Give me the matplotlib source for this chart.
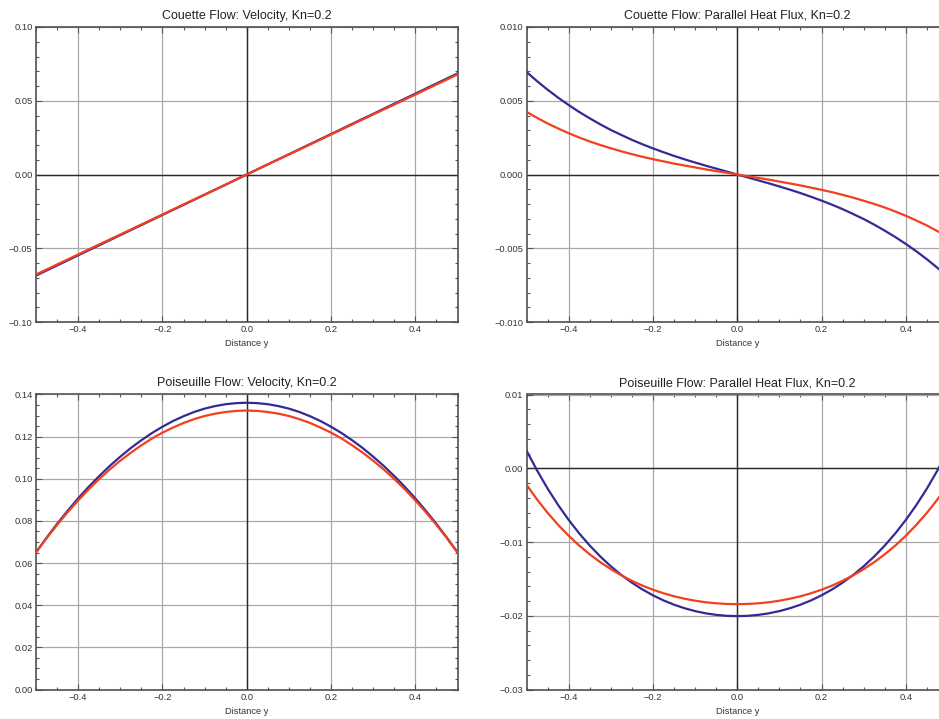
import matplotlib
matplotlib.use("Agg")
import matplotlib.pyplot as plt
from matplotlib.ticker import MultipleLocator, FuncFormatter

plt.rcParams['font.family'] = ['Liberation Sans', 'DejaVu Sans']

# distance across the channel (fine grid for the curved profiles)
distanceY = [-0.5, -0.475, -0.45, -0.425, -0.4, -0.375, -0.35, -0.325, -0.3, -0.275, -0.25,
             -0.225, -0.2, -0.175, -0.15, -0.125, -0.1, -0.075, -0.05, -0.025, 0.0,
             0.025, 0.05, 0.075, 0.1, 0.125, 0.15, 0.175, 0.2, 0.225, 0.25,
             0.275, 0.3, 0.325, 0.35, 0.375, 0.4, 0.425, 0.45, 0.475, 0.5]
distanceYCoarse = [-0.5, -0.45, -0.4, -0.35, -0.3, -0.25, -0.2, -0.15, -0.1, -0.05, 0.0,
                   0.05, 0.1, 0.15, 0.2, 0.25, 0.3, 0.35, 0.4, 0.45, 0.5]

couetteVelBlue = [-0.0685, -0.0617, -0.0548, -0.0480, -0.0411, -0.0343, -0.0274, -0.0206, -0.0137, -0.0069, 0.0,
                  0.0069, 0.0137, 0.0206, 0.0274, 0.0343, 0.0411, 0.0480, 0.0548, 0.0617, 0.0685]
couetteVelRed = [-0.0678, -0.0610, -0.0542, -0.0474, -0.0407, -0.0339, -0.0271, -0.0203, -0.0136, -0.0068, 0.0,
                 0.0068, 0.0136, 0.0203, 0.0271, 0.0339, 0.0407, 0.0474, 0.0542, 0.0610, 0.0678]

couetteHeatBlue = [0.00695, 0.00633, 0.00575, 0.00521, 0.00471, 0.00424, 0.00381, 0.00340, 0.00302, 0.00268, 0.00235,
                   0.00205, 0.00177, 0.00151, 0.00126, 0.00103, 0.00081, 0.00060, 0.00040, 0.00020, 0.0,
                   -0.00020, -0.00040, -0.00060, -0.00081, -0.00103, -0.00126, -0.00151, -0.00177, -0.00205, -0.00235,
                   -0.00268, -0.00302, -0.00340, -0.00381, -0.00424, -0.00471, -0.00521, -0.00575, -0.00633, -0.00695]
couetteHeatRed = [0.00425, 0.00384, 0.00346, 0.00312, 0.00280, 0.00251, 0.00224, 0.00200, 0.00178, 0.00157, 0.00138,
                  0.00120, 0.00104, 0.00089, 0.00074, 0.00061, 0.00048, 0.00035, 0.00023, 0.00012, 0.0,
                  -0.00012, -0.00023, -0.00035, -0.00048, -0.00061, -0.00074, -0.00089, -0.00104, -0.00120, -0.00138,
                  -0.00157, -0.00178, -0.00200, -0.00224, -0.00251, -0.00280, -0.00312, -0.00346, -0.00384, -0.00425]

poiseuilleVelBlue = [0.0651, 0.0720, 0.0786, 0.0848, 0.0907, 0.0962, 0.1013, 0.1061, 0.1105, 0.1146, 0.1183,
                     0.1217, 0.1247, 0.1274, 0.1297, 0.1317, 0.1333, 0.1345, 0.1354, 0.1359, 0.1361,
                     0.1359, 0.1354, 0.1345, 0.1333, 0.1317, 0.1297, 0.1274, 0.1247, 0.1217, 0.1183,
                     0.1146, 0.1105, 0.1061, 0.1013, 0.0962, 0.0907, 0.0848, 0.0786, 0.0720, 0.0651]
poiseuilleVelRed = [0.0650, 0.0718, 0.0781, 0.0841, 0.0897, 0.0950, 0.0999, 0.1044, 0.1086, 0.1124, 0.1159,
                    0.1191, 0.1219, 0.1243, 0.1265, 0.1283, 0.1298, 0.1309, 0.1317, 0.1322, 0.1324,
                    0.1322, 0.1317, 0.1309, 0.1298, 0.1283, 0.1265, 0.1243, 0.1219, 0.1191, 0.1159,
                    0.1124, 0.1086, 0.1044, 0.0999, 0.0950, 0.0897, 0.0841, 0.0781, 0.0718, 0.0650]

poiseuilleHeatBlue = [0.00240, -0.00029, -0.00275, -0.00498, -0.00700, -0.00883, -0.01048, -0.01196, -0.01329, -0.01447, -0.01551,
                      -0.01643, -0.01723, -0.01792, -0.01850, -0.01898, -0.01937, -0.01967, -0.01988, -0.02001, -0.02005,
                      -0.02001, -0.01988, -0.01967, -0.01937, -0.01898, -0.01850, -0.01792, -0.01723, -0.01643, -0.01551,
                      -0.01447, -0.01329, -0.01196, -0.01048, -0.00883, -0.00700, -0.00498, -0.00275, -0.00029, 0.00240]
poiseuilleHeatRed = [-0.00224, -0.00423, -0.00604, -0.00767, -0.00915, -0.01048, -0.01167, -0.01273, -0.01368, -0.01452, -0.01526,
                     -0.01591, -0.01647, -0.01695, -0.01736, -0.01769, -0.01796, -0.01817, -0.01831, -0.01840, -0.01843,
                     -0.01840, -0.01831, -0.01817, -0.01796, -0.01769, -0.01736, -0.01695, -0.01647, -0.01591, -0.01526,
                     -0.01452, -0.01368, -0.01273, -0.01167, -0.01048, -0.00915, -0.00767, -0.00604, -0.00423, -0.00224]

titles = ["Couette Flow: Velocity, Kn=0.2", "Couette Flow: Parallel Heat Flux, Kn=0.2",
          "Poiseuille Flow: Velocity, Kn=0.2", "Poiseuille Flow: Parallel Heat Flux, Kn=0.2"]

blueColor = "#352a94"
redColor = "#f2401e"
W, H = 939, 719

fig = plt.figure(figsize=(W / 100, H / 100), dpi=100)

leftX, rightX = 36 / W, 526.5 / W
axWidth = 421.5 / W
topBottom, bottomBottom = 1 - 322 / H, 1 - 689.5 / H
axHeight = 295 / H


def makeFormatter(decimals):
    def fmt(v, pos):
        s = f"{v:.{decimals}f}"
        if float(s) == 0:
            s = f"{0:.{decimals}f}"
        return s.replace("-", "\u2212")
    return FuncFormatter(fmt)


def drawPanel(rect, xs, blue, red, title, ylim, yMajor, yMinor, yDecimals, hZero):
    ax = fig.add_axes(rect)
    ax.set_xlim(-0.5, 0.5)
    ax.set_ylim(*ylim)
    ax.grid(True, which='major', color='#a8a8a8', linewidth=0.9)
    ax.axvline(0, color='#2a2a2a', linewidth=1.0, zorder=1.5)
    if hZero:
        ax.axhline(0, color='#2a2a2a', linewidth=1.0, zorder=1.5)
    ax.plot(xs, blue, color=blueColor, linewidth=1.6, zorder=3)
    ax.plot(xs, red, color=redColor, linewidth=1.6, zorder=3)
    ax.xaxis.set_major_locator(MultipleLocator(0.2))
    ax.xaxis.set_minor_locator(MultipleLocator(0.05))
    ax.yaxis.set_major_locator(MultipleLocator(yMajor))
    ax.yaxis.set_minor_locator(MultipleLocator(yMinor))
    ax.xaxis.set_major_formatter(makeFormatter(1))
    ax.yaxis.set_major_formatter(makeFormatter(yDecimals))
    ax.tick_params(which='both', direction='in', top=True, right=True,
                   colors='#555555', labelcolor='#333333', labelsize=6.7, pad=2.5)
    ax.tick_params(which='major', length=4, width=0.8)
    ax.tick_params(which='minor', length=2.5, width=0.8)
    for spine in ax.spines.values():
        spine.set_color('#505050')
        spine.set_linewidth(1.2)
    ax.set_title(title, fontsize=9, color='#222222', pad=6)
    ax.set_xlabel("Distance y", fontsize=6.7, color='#333333', labelpad=3.5)
    ax.set_axisbelow(True)
    return ax


drawPanel([leftX, topBottom, axWidth, axHeight], distanceYCoarse, couetteVelBlue, couetteVelRed, titles[0],
          (-0.1, 0.1), 0.05, 0.01, 2, True)
drawPanel([rightX, topBottom, axWidth, axHeight], distanceY, couetteHeatBlue, couetteHeatRed, titles[1],
          (-0.01, 0.01), 0.005, 0.001, 3, True)
drawPanel([leftX, bottomBottom, axWidth, axHeight], distanceY, poiseuilleVelBlue, poiseuilleVelRed, titles[2],
          (0.0, 0.14), 0.02, 0.005, 2, False)
drawPanel([rightX, bottomBottom, axWidth, axHeight], distanceY, poiseuilleHeatBlue, poiseuilleHeatRed, titles[3],
          (-0.03, 0.01), 0.01, 0.002, 2, True)

fig.savefig("out.png", dpi=100)
